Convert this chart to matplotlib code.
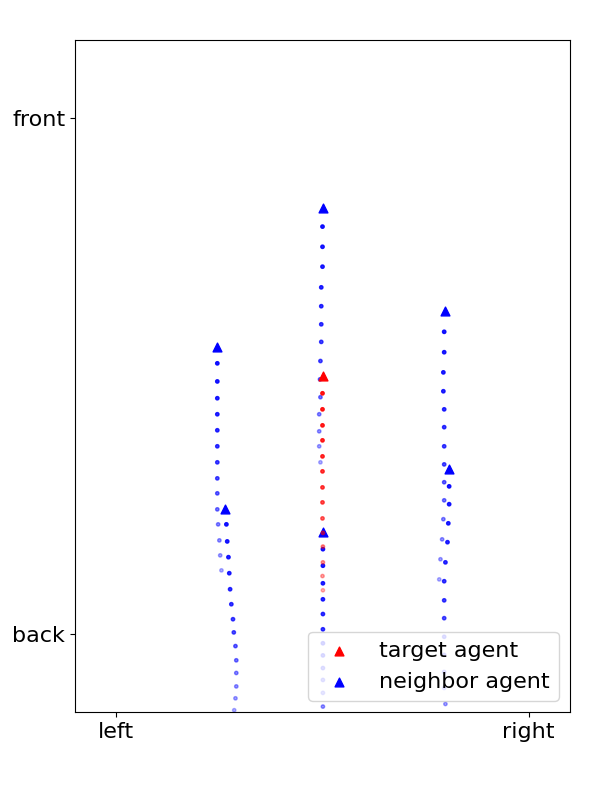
import matplotlib
matplotlib.use('Agg')
import matplotlib.pyplot as plt
from matplotlib.colors import to_rgba

plt.close('all')

# fading of the past positions, newest first
hist_alpha = [0.9, 0.88, 0.86, 0.84, 0.8, 0.77, 0.73, 0.68, 0.6, 0.52, 0.46, 0.41, 0.36, 0.3]

# target agent (current position + past positions)
target_now = (0.02, 0.0)
target_x = [0.0, 0.0, 0.0, 0.0, 0.0, 0.0, 0.0, 0.0, 0.0, 0.01, 0.01, 0.01, 0.0, 0.01]
target_y = [-0.67, -1.29, -1.91, -2.49, -3.11, -3.69, -4.31, -4.89, -5.51, -6.07, -6.60, -7.21, -7.74, -8.29]

# neighbor agents
nb_now_x = [-2.55, -2.36, 0.0, 0.02, 2.98, 3.07]
nb_now_y = [1.11, -5.16, 6.51, -6.05, 2.52, -3.60]

nb_hist_x = [
    [-2.55, -2.55, -2.55, -2.55, -2.55, -2.55, -2.55, -2.55, -2.55, -2.55, -2.53, -2.50, -2.48, -2.45],
    [-2.33, -2.31, -2.28, -2.26, -2.24, -2.21, -2.17, -2.15, -2.11, -2.09, -2.09, -2.09, -2.11, -2.14],
    [0.0, 0.0, 0.0, -0.03, -0.03, -0.03, -0.03, -0.05, -0.06, -0.05, -0.08, -0.08, -0.08, -0.05],
    [0.01, 0.01, 0.01, 0.01, 0.01, 0.01, 0.01, 0.01, 0.01, 0.01, 0.01, 0.01, 0.01, 0.01],
    [2.95, 2.95, 2.93, 2.93, 2.95, 2.95, 2.95, 2.95, 2.95, 2.95, 2.93, 2.90, 2.86, 2.83],
    [3.07, 3.07, 3.05, 3.03, 2.98, 2.95, 2.95, 2.95, 2.95, 2.95, 2.95, 2.95, 2.98, 2.98],
]
nb_hist_y = [
    [0.49, -0.21, -0.86, -1.48, -2.10, -2.72, -3.34, -3.96, -4.54, -5.16, -5.74, -6.36, -6.94, -7.52],
    [-5.74, -6.40, -7.01, -7.63, -8.25, -8.83, -9.41, -9.92, -10.45, -11.00, -11.49, -12.01, -12.47, -12.93],
    [5.78, 5.00, 4.23, 3.43, 2.70, 2.00, 1.32, 0.58, -0.13, -0.82, -1.48, -2.14, -2.72, -3.34],
    [-6.70, -7.34, -8.02, -8.64, -9.21, -9.80, -10.34, -10.81, -11.30, -11.76, -12.26, -12.79, -13.3, -13.8],
    [1.71, 0.92, 0.14, -0.59, -1.29, -1.98, -2.72, -3.42, -4.11, -4.81, -5.54, -6.32, -7.09, -7.87],
    [-4.27, -4.96, -5.70, -6.43, -7.21, -7.94, -8.68, -9.37, -10.09, -10.79, -11.45, -12.07, -12.69, -13.3],
]

fig, ax = plt.subplots(figsize=(6, 8), dpi=100)
fig.subplots_adjust(right=0.95, top=0.95)

for i in range(len(nb_now_x)):
    cols = [to_rgba('b', a) for a in hist_alpha]
    ax.scatter(nb_hist_x[i], nb_hist_y[i], s=6, c=cols)
    ax.scatter(nb_now_x[i], nb_now_y[i], s=40, marker='^', color='b',
               label='neighbor agent' if i == 0 else None)

cols = [to_rgba('r', a) for a in hist_alpha]
ax.scatter(target_x, target_y, s=6, c=cols)
ax.scatter(*target_now, s=40, marker='^', color='r', label='target agent')

ax.set_xlim(-6, 6)
ax.set_ylim(-13, 13)
ax.set_xticks([-5, 5], ['left', 'right'])
ax.set_yticks([-10, 10], ['back', 'front'])
ax.tick_params(labelsize=16)

h, l = ax.get_legend_handles_labels()
ax.legend(h[::-1], l[::-1], loc='lower right', fontsize=16)

plt.savefig('out.png')
